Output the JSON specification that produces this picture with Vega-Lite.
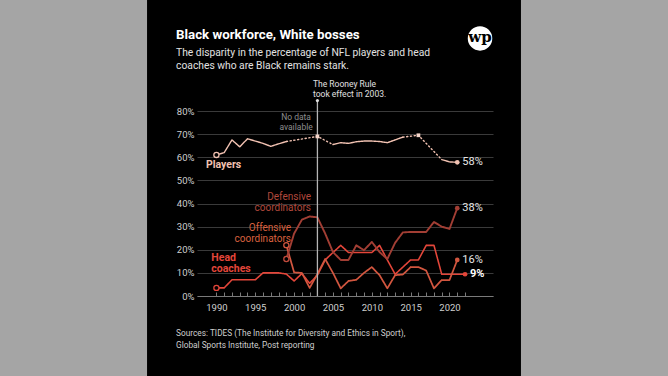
{
  "$schema": "https://vega.github.io/schema/vega-lite/v6.json",
  "width": 296,
  "height": 185,
  "autosize": "none",
  "padding": {"left": 197, "top": 111, "right": 175, "bottom": 80},
  "background": "#000000",
  "config": {"font": "Liberation Sans Narrow, Roboto, sans-serif", "view": {"stroke": null}},
  "resolve": {"axis": {"x": "independent", "y": "independent"}},
  "datasets": {
    "one": [{"k": 1}],
    "lines": [
      {"series": "Players", "seg": "p1", "dash": "solid", "year": 1990, "value": 61},
      {"series": "Players", "seg": "p1", "dash": "solid", "year": 1991, "value": 62},
      {"series": "Players", "seg": "p1", "dash": "solid", "year": 1992, "value": 67.5},
      {"series": "Players", "seg": "p1", "dash": "solid", "year": 1993, "value": 64.5},
      {"series": "Players", "seg": "p1", "dash": "solid", "year": 1994, "value": 68},
      {"series": "Players", "seg": "p1", "dash": "solid", "year": 1995, "value": 67},
      {"series": "Players", "seg": "p1", "dash": "solid", "year": 1996, "value": 66},
      {"series": "Players", "seg": "p1", "dash": "solid", "year": 1997, "value": 64.7},
      {"series": "Players", "seg": "p1", "dash": "solid", "year": 1998, "value": 65.8},
      {"series": "Players", "seg": "p1", "dash": "solid", "year": 1999, "value": 66.8},
      {"series": "Players", "seg": "p2", "dash": "dotted", "year": 1999, "value": 66.8},
      {"series": "Players", "seg": "p2", "dash": "dotted", "year": 2003, "value": 69},
      {"series": "Players", "seg": "p2", "dash": "dotted", "year": 2005, "value": 65.5},
      {"series": "Players", "seg": "p3", "dash": "solid", "year": 2005, "value": 65.5},
      {"series": "Players", "seg": "p3", "dash": "solid", "year": 2006, "value": 66.3},
      {"series": "Players", "seg": "p3", "dash": "solid", "year": 2007, "value": 66},
      {"series": "Players", "seg": "p3", "dash": "solid", "year": 2008, "value": 66.7},
      {"series": "Players", "seg": "p3", "dash": "solid", "year": 2009, "value": 67},
      {"series": "Players", "seg": "p3", "dash": "solid", "year": 2010, "value": 67},
      {"series": "Players", "seg": "p3", "dash": "solid", "year": 2011, "value": 66.8},
      {"series": "Players", "seg": "p3", "dash": "solid", "year": 2012, "value": 66.3},
      {"series": "Players", "seg": "p3", "dash": "solid", "year": 2013, "value": 67.5},
      {"series": "Players", "seg": "p3", "dash": "solid", "year": 2014, "value": 68.7},
      {"series": "Players", "seg": "p4", "dash": "dotted", "year": 2014, "value": 68.7},
      {"series": "Players", "seg": "p4", "dash": "dotted", "year": 2016, "value": 69.5},
      {"series": "Players", "seg": "p4", "dash": "dotted", "year": 2019, "value": 59},
      {"series": "Players", "seg": "p5", "dash": "solid", "year": 2019, "value": 59},
      {"series": "Players", "seg": "p5", "dash": "solid", "year": 2020, "value": 58},
      {"series": "Players", "seg": "p5", "dash": "solid", "year": 2021, "value": 57.8},
      {"series": "Head", "seg": "h", "dash": "solid", "year": 1990, "value": 3.5},
      {"series": "Head", "seg": "h", "dash": "solid", "year": 1991, "value": 3.5},
      {"series": "Head", "seg": "h", "dash": "solid", "year": 1992, "value": 7},
      {"series": "Head", "seg": "h", "dash": "solid", "year": 1993, "value": 7},
      {"series": "Head", "seg": "h", "dash": "solid", "year": 1994, "value": 7},
      {"series": "Head", "seg": "h", "dash": "solid", "year": 1995, "value": 7},
      {"series": "Head", "seg": "h", "dash": "solid", "year": 1996, "value": 10},
      {"series": "Head", "seg": "h", "dash": "solid", "year": 1997, "value": 10},
      {"series": "Head", "seg": "h", "dash": "solid", "year": 1998, "value": 10},
      {"series": "Head", "seg": "h", "dash": "solid", "year": 1999, "value": 9.5},
      {"series": "Head", "seg": "h", "dash": "solid", "year": 2000, "value": 6.5},
      {"series": "Head", "seg": "h", "dash": "solid", "year": 2001, "value": 9.7},
      {"series": "Head", "seg": "h", "dash": "solid", "year": 2002, "value": 5.5},
      {"series": "Head", "seg": "h", "dash": "solid", "year": 2003, "value": 9},
      {"series": "Head", "seg": "h", "dash": "solid", "year": 2004, "value": 15.6},
      {"series": "Head", "seg": "h", "dash": "solid", "year": 2005, "value": 18.8},
      {"series": "Head", "seg": "h", "dash": "solid", "year": 2006, "value": 21.9},
      {"series": "Head", "seg": "h", "dash": "solid", "year": 2007, "value": 18.8},
      {"series": "Head", "seg": "h", "dash": "solid", "year": 2008, "value": 18.8},
      {"series": "Head", "seg": "h", "dash": "solid", "year": 2009, "value": 18.8},
      {"series": "Head", "seg": "h", "dash": "solid", "year": 2010, "value": 18.8},
      {"series": "Head", "seg": "h", "dash": "solid", "year": 2011, "value": 21.9},
      {"series": "Head", "seg": "h", "dash": "solid", "year": 2012, "value": 15.6},
      {"series": "Head", "seg": "h", "dash": "solid", "year": 2013, "value": 9.4},
      {"series": "Head", "seg": "h", "dash": "solid", "year": 2014, "value": 12.5},
      {"series": "Head", "seg": "h", "dash": "solid", "year": 2015, "value": 15.6},
      {"series": "Head", "seg": "h", "dash": "solid", "year": 2016, "value": 15.6},
      {"series": "Head", "seg": "h", "dash": "solid", "year": 2017, "value": 21.9},
      {"series": "Head", "seg": "h", "dash": "solid", "year": 2018, "value": 21.9},
      {"series": "Head", "seg": "h", "dash": "solid", "year": 2019, "value": 9.4},
      {"series": "Head", "seg": "h", "dash": "solid", "year": 2020, "value": 9.4},
      {"series": "Head", "seg": "h", "dash": "solid", "year": 2021, "value": 9.4},
      {"series": "Head", "seg": "h", "dash": "solid", "year": 2022, "value": 9.4},
      {"series": "Off", "seg": "o", "dash": "solid", "year": 1999, "value": 22},
      {"series": "Off", "seg": "o", "dash": "solid", "year": 2000, "value": 10.2},
      {"series": "Off", "seg": "o", "dash": "solid", "year": 2001, "value": 10},
      {"series": "Off", "seg": "o", "dash": "solid", "year": 2002, "value": 3.5},
      {"series": "Off", "seg": "o", "dash": "solid", "year": 2003, "value": 9.5},
      {"series": "Off", "seg": "o", "dash": "solid", "year": 2004, "value": 16},
      {"series": "Off", "seg": "o", "dash": "solid", "year": 2005, "value": 10},
      {"series": "Off", "seg": "o", "dash": "solid", "year": 2006, "value": 3.3},
      {"series": "Off", "seg": "o", "dash": "solid", "year": 2007, "value": 6.5},
      {"series": "Off", "seg": "o", "dash": "solid", "year": 2008, "value": 7},
      {"series": "Off", "seg": "o", "dash": "solid", "year": 2009, "value": 10},
      {"series": "Off", "seg": "o", "dash": "solid", "year": 2010, "value": 12.5},
      {"series": "Off", "seg": "o", "dash": "solid", "year": 2011, "value": 9},
      {"series": "Off", "seg": "o", "dash": "solid", "year": 2012, "value": 3.3},
      {"series": "Off", "seg": "o", "dash": "solid", "year": 2013, "value": 9},
      {"series": "Off", "seg": "o", "dash": "solid", "year": 2014, "value": 9.3},
      {"series": "Off", "seg": "o", "dash": "solid", "year": 2015, "value": 12.5},
      {"series": "Off", "seg": "o", "dash": "solid", "year": 2016, "value": 12.5},
      {"series": "Off", "seg": "o", "dash": "solid", "year": 2017, "value": 11},
      {"series": "Off", "seg": "o", "dash": "solid", "year": 2018, "value": 3.3},
      {"series": "Off", "seg": "o", "dash": "solid", "year": 2019, "value": 6.9},
      {"series": "Off", "seg": "o", "dash": "solid", "year": 2020, "value": 6.9},
      {"series": "Off", "seg": "o", "dash": "solid", "year": 2021, "value": 15.6},
      {"series": "Def", "seg": "d", "dash": "solid", "year": 1999, "value": 16},
      {"series": "Def", "seg": "d", "dash": "solid", "year": 2000, "value": 27},
      {"series": "Def", "seg": "d", "dash": "solid", "year": 2001, "value": 33},
      {"series": "Def", "seg": "d", "dash": "solid", "year": 2002, "value": 34.4},
      {"series": "Def", "seg": "d", "dash": "solid", "year": 2003, "value": 34},
      {"series": "Def", "seg": "d", "dash": "solid", "year": 2004, "value": 27},
      {"series": "Def", "seg": "d", "dash": "solid", "year": 2005, "value": 19},
      {"series": "Def", "seg": "d", "dash": "solid", "year": 2006, "value": 15.6},
      {"series": "Def", "seg": "d", "dash": "solid", "year": 2007, "value": 15.6},
      {"series": "Def", "seg": "d", "dash": "solid", "year": 2008, "value": 21.9},
      {"series": "Def", "seg": "d", "dash": "solid", "year": 2009, "value": 19.8},
      {"series": "Def", "seg": "d", "dash": "solid", "year": 2010, "value": 23.4},
      {"series": "Def", "seg": "d", "dash": "solid", "year": 2011, "value": 19},
      {"series": "Def", "seg": "d", "dash": "solid", "year": 2012, "value": 16},
      {"series": "Def", "seg": "d", "dash": "solid", "year": 2013, "value": 23},
      {"series": "Def", "seg": "d", "dash": "solid", "year": 2014, "value": 27.5},
      {"series": "Def", "seg": "d", "dash": "solid", "year": 2015, "value": 27.7},
      {"series": "Def", "seg": "d", "dash": "solid", "year": 2016, "value": 27.7},
      {"series": "Def", "seg": "d", "dash": "solid", "year": 2017, "value": 27.7},
      {"series": "Def", "seg": "d", "dash": "solid", "year": 2018, "value": 32},
      {"series": "Def", "seg": "d", "dash": "solid", "year": 2019, "value": 30},
      {"series": "Def", "seg": "d", "dash": "solid", "year": 2020, "value": 29},
      {"series": "Def", "seg": "d", "dash": "solid", "year": 2021, "value": 38}
    ]
  },
  "layer": [
    {
      "data": {"name": "lines"},
      "mark": {"type": "line", "strokeCap": "round", "strokeJoin": "round"},
      "encoding": {
        "x": {"field": "year", "type": "quantitative", "scale": {"domain": [1987.5, 2025.6], "nice": false, "zero": false},
          "axis": {"title": null, "grid": false, "values": [1990,1991,1992,1993,1994,1995,1996,1997,1998,1999,2000,2001,2002,2003,2004,2005,2006,2007,2008,2009,2010,2011,2012,2013,2014,2015,2016,2017,2018,2019,2020,2021,2022],
            "labelExpr": "datum.value % 5 == 0 ? '' + datum.value : ''", "labelOverlap": false, "domainColor": "#7a7a7a", "tickColor": "#7a7a7a", "tickSize": -4, "labelPadding": 10, "labelColor": "#cfcfcf", "labelFontSize": 9.5, "labelFlush": false}},
        "y": {"field": "value", "type": "quantitative", "scale": {"domain": [0, 80], "nice": false},
          "axis": {"title": null, "values": [0,10,20,30,40,50,60,70,80], "labelExpr": "datum.value + '%'", "labelOverlap": false, "grid": true, "gridColor": "#3a3a3a", "domain": false, "ticks": false, "labelPadding": 3, "labelColor": "#cfcfcf", "labelFontSize": 9.5}},
        "detail": {"field": "seg"},
        "color": {"field": "series", "type": "nominal", "legend": null, "scale": {"domain": ["Players", "Head", "Off", "Def"], "range": ["#f2c2b2", "#e4463a", "#d2563f", "#a23e34"]}},
        "strokeDash": {"field": "dash", "type": "nominal", "legend": null, "scale": {"domain": ["solid", "dotted"], "range": [[1, 0], [1.2, 2.6]]}},
        "strokeWidth": {"field": "series", "type": "nominal", "legend": null, "scale": {"domain": ["Players", "Head", "Off", "Def"], "range": [1.4, 1.9, 1.3, 1.1]}}
      }
    },
    {"data": {"name": "one"}, "mark": {"type": "rect", "color": "#a5a5a5"}, "encoding": {"x": {"datum": 1960, "type": "quantitative", "axis": null}, "x2": {"datum": 1981.07}, "y": {"datum": -50, "type": "quantitative", "axis": null}, "y2": {"datum": 140}}},
    {"data": {"name": "one"}, "mark": {"type": "rect", "color": "#a5a5a5"}, "encoding": {"x": {"datum": 2029.2, "type": "quantitative", "axis": null}, "x2": {"datum": 2050}, "y": {"datum": -50, "type": "quantitative", "axis": null}, "y2": {"datum": 140}}},
    {"data": {"name": "one"}, "mark": {"type": "rule", "color": "#b5b5b5", "strokeWidth": 1.3}, "encoding": {"x": {"datum": 2003, "type": "quantitative", "axis": null}, "y": {"datum": 0, "type": "quantitative", "axis": null}, "y2": {"datum": 84.5}}},
    {"data": {"name": "one"}, "mark": {"type": "point", "filled": true, "color": "#e0e0e0", "size": 10, "opacity": 1}, "encoding": {"x": {"datum": 2003, "type": "quantitative", "axis": null}, "y": {"datum": 84.5, "type": "quantitative", "axis": null}}},
    {
      "data": {"name": "lines"},
      "transform": [
        {"joinaggregate": [{"op": "min", "field": "year", "as": "minYear"}], "groupby": ["series"]},
        {"filter": "datum.year == datum.minYear"}
      ],
      "mark": {"type": "point", "filled": true, "fill": "#000000", "size": 26, "strokeWidth": 1.3, "opacity": 1},
      "encoding": {
        "x": {"field": "year", "type": "quantitative", "axis": null},
        "y": {"field": "value", "type": "quantitative", "axis": null},
        "stroke": {"field": "series", "type": "nominal", "legend": null, "scale": {"domain": ["Players", "Head", "Off", "Def"], "range": ["#f2c2b2", "#e4463a", "#d2563f", "#c04a3c"]}}
      }
    },
    {
      "data": {"name": "lines"},
      "transform": [
        {"filter": "datum.series == 'Players' && ((datum.seg == 'p2' && datum.year == 2003) || (datum.seg == 'p4' && datum.year == 2016))"}
      ],
      "mark": {"type": "square", "filled": true, "color": "#f6d6cb", "size": 14, "opacity": 1},
      "encoding": {"x": {"field": "year", "type": "quantitative", "axis": null}, "y": {"field": "value", "type": "quantitative", "axis": null}}
    },
    {
      "data": {"name": "lines"},
      "transform": [
        {"joinaggregate": [{"op": "max", "field": "year", "as": "maxYear"}], "groupby": ["series"]},
        {"filter": "datum.year == datum.maxYear"},
        {"calculate": "format(datum.value, '.0f') + '%'", "as": "label"}
      ],
      "encoding": {"x": {"field": "year", "type": "quantitative", "axis": null}, "y": {"field": "value", "type": "quantitative", "axis": null}},
      "layer": [
        {
          "mark": {"type": "point", "filled": true, "size": 22, "opacity": 1},
          "encoding": {"color": {"field": "series", "type": "nominal", "legend": null, "scale": {"domain": ["Players", "Head", "Off", "Def"], "range": ["#f8d8ce", "#e4463a", "#d2563f", "#c04a3c"]}}}
        },
        {
          "transform": [{"filter": "datum.series != 'Head'"}],
          "mark": {"type": "text", "align": "left", "baseline": "middle", "dx": 5, "fontSize": 11, "color": "#e6e6e6"},
          "encoding": {"text": {"field": "label"}}
        },
        {
          "transform": [{"filter": "datum.series == 'Head'"}],
          "mark": {"type": "text", "align": "left", "baseline": "middle", "dx": 5, "fontSize": 11, "fontWeight": "bold", "color": "#ffffff"},
          "encoding": {"text": {"field": "label"}}
        }
      ]
    },
    {"data": {"name": "one"}, "mark": {"type": "text", "align": "left", "baseline": "alphabetic", "fontSize": 13.3, "fontWeight": "bold", "color": "#ffffff"},
      "encoding": {"x": {"datum": 1984.8, "type": "quantitative", "axis": null}, "y": {"datum": 111.1, "type": "quantitative", "axis": null}, "text": {"value": "Black workforce, White bosses"}}},
    {"data": {"name": "one"}, "mark": {"type": "text", "align": "left", "baseline": "alphabetic", "fontSize": 10.3, "color": "#e2e2e2", "lineBreak": "\n", "lineHeight": 13.5},
      "encoding": {"x": {"datum": 1984.8, "type": "quantitative", "axis": null}, "y": {"datum": 103.8, "type": "quantitative", "axis": null}, "text": {"value": "The disparity in the percentage of NFL players and head\ncoaches who are Black remains stark."}}},
    {"data": {"name": "one"}, "mark": {"type": "text", "align": "left", "baseline": "alphabetic", "fontSize": 8.3, "color": "#cfcfcf", "lineBreak": "\n", "lineHeight": 12},
      "encoding": {"x": {"datum": 1984.8, "type": "quantitative", "axis": null}, "y": {"datum": -17.3, "type": "quantitative", "axis": null}, "text": {"value": "Sources: TIDES (The Institute for Diversity and Ethics in Sport),\nGlobal Sports Institute, Post reporting"}}},
    {"data": {"name": "one"}, "mark": {"type": "text", "align": "left", "baseline": "alphabetic", "fontSize": 8.5, "color": "#e0e0e0", "lineBreak": "\n", "lineHeight": 9.5},
      "encoding": {"x": {"datum": 2002.43, "type": "quantitative", "axis": null}, "y": {"datum": 90.2, "type": "quantitative", "axis": null}, "text": {"value": "The Rooney Rule\ntook effect in 2003."}}},
    {"data": {"name": "one"}, "mark": {"type": "text", "align": "center", "baseline": "alphabetic", "fontSize": 8.5, "color": "#8e8e8e", "lineBreak": "\n", "lineHeight": 10},
      "encoding": {"x": {"datum": 2000.25, "type": "quantitative", "axis": null}, "y": {"datum": 76.1, "type": "quantitative", "axis": null}, "text": {"value": "No data\navailable"}}},
    {"data": {"name": "one"}, "mark": {"type": "text", "align": "left", "baseline": "alphabetic", "fontSize": 10.5, "fontWeight": "bold", "color": "#f2c2b2"},
      "encoding": {"x": {"datum": 1988.66, "type": "quantitative", "axis": null}, "y": {"datum": 55.35, "type": "quantitative", "axis": null}, "text": {"value": "Players"}}},
    {"data": {"name": "one"}, "mark": {"type": "text", "align": "right", "baseline": "alphabetic", "fontSize": 10, "color": "#b2483c", "lineBreak": "\n", "lineHeight": 10.7},
      "encoding": {"x": {"datum": 2002.17, "type": "quantitative", "axis": null}, "y": {"datum": 41.5, "type": "quantitative", "axis": null}, "text": {"value": "Defensive\ncoordinators"}}},
    {"data": {"name": "one"}, "mark": {"type": "text", "align": "right", "baseline": "alphabetic", "fontSize": 10, "color": "#d9603f", "lineBreak": "\n", "lineHeight": 11},
      "encoding": {"x": {"datum": 1999.6, "type": "quantitative", "axis": null}, "y": {"datum": 28.2, "type": "quantitative", "axis": null}, "text": {"value": "Offensive\ncoordinators"}}},
    {"data": {"name": "one"}, "mark": {"type": "text", "align": "left", "baseline": "alphabetic", "fontSize": 10.5, "fontWeight": "bold", "color": "#e4463a", "lineBreak": "\n", "lineHeight": 10.5},
      "encoding": {"x": {"datum": 1989.34, "type": "quantitative", "axis": null}, "y": {"datum": 15.1, "type": "quantitative", "axis": null}, "text": {"value": "Head\ncoaches"}}},
    {"data": {"name": "one"}, "mark": {"type": "point", "filled": true, "color": "#ffffff", "size": 600, "opacity": 1},
      "encoding": {"x": {"datum": 2023.93, "type": "quantitative", "axis": null}, "y": {"datum": 111.4, "type": "quantitative", "axis": null}}},
    {"data": {"name": "one"}, "mark": {"type": "text", "align": "center", "baseline": "middle", "fontSize": 15, "fontWeight": "bold", "font": "DejaVu Serif", "color": "#000000"},
      "encoding": {"x": {"datum": 2023.93, "type": "quantitative", "axis": null}, "y": {"datum": 111.9, "type": "quantitative", "axis": null}, "text": {"value": "wp"}}}
  ]
}
